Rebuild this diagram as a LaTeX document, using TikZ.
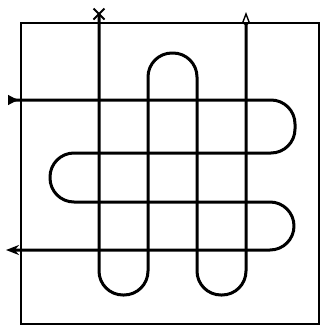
\documentclass[tikz,border=0pt]{standalone}
\usepackage{tikz}
\usetikzlibrary{arrows.meta, shapes.misc}
\tikzset{
	strand/.style={line width=3pt, rounded corners=24pt, line join=round}
}
\tikzset{
	frameline/.style={line width=1.4pt}
}
\begin{document}
\begin{tikzpicture}[x=1pt,y=-1pt]
      \useasboundingbox (0,0) rectangle (321,327);

      % outer frame
      \draw[frameline] (21,23) rectangle (319,324);

      % free ends of the two strands
      \coordinate (vstart) at (99,14);
      \coordinate (vend) at (246,12);
      \coordinate (hstart) at (8,100);
      \coordinate (hend) at (6,250);

      % vertical strand (loops at bottom, top, bottom)
      \draw[strand, -{Kite[open, length=14pt, width=8pt, line width=1.4pt]}]
        (vstart) -- (99,295) -- (148,295) -- (148,53) -- (197,53)
        -- (197,295) -- (246,295) -- (vend);
      \node[cross out, draw, line width=2pt, minimum size=9pt, inner sep=0pt] (xmark) at (vstart) {};

      % horizontal strand (loops right, left, right)
      \draw[strand, {Latex[reversed, length=12pt, width=11pt]}-{Stealth[length=13pt, width=10pt]}]
        (hstart) -- (295,100) -- (295,153) -- (50,153) -- (50,202)
        -- (294,202) -- (294,250) -- (hend);
    \end{tikzpicture}
\end{document}
